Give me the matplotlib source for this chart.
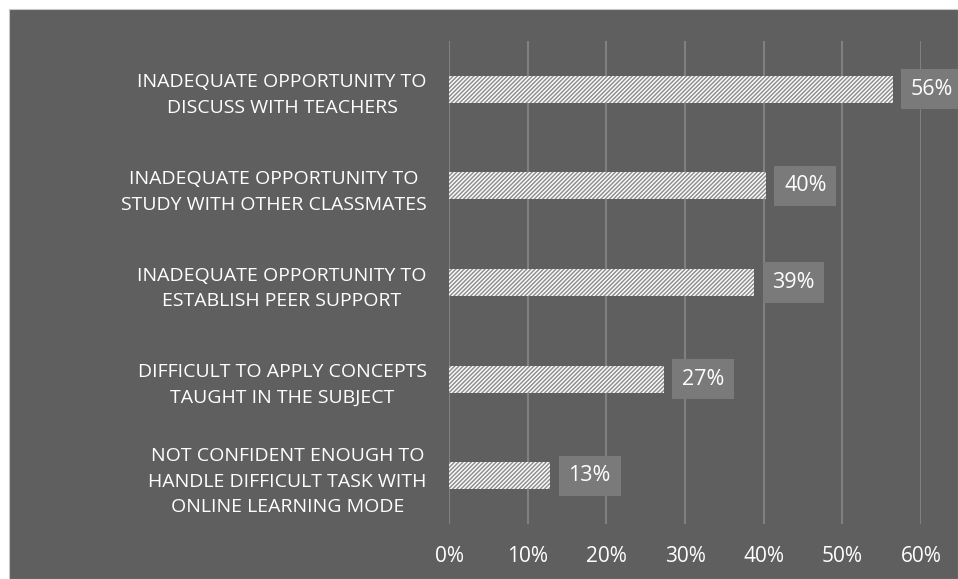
import matplotlib
matplotlib.use("Agg")
import matplotlib.pyplot as plt
from matplotlib.patches import Rectangle
from matplotlib.ticker import FuncFormatter

categories = [
    "INADEQUATE OPPORTUNITY TO\nDISCUSS WITH TEACHERS",
    "INADEQUATE OPPORTUNITY TO\nSTUDY WITH OTHER CLASSMATES",
    "INADEQUATE OPPORTUNITY TO\nESTABLISH PEER SUPPORT",
    "DIFFICULT TO APPLY CONCEPTS\nTAUGHT IN THE SUBJECT",
    "NOT CONFIDENT ENOUGH TO\nHANDLE DIFFICULT TASK WITH\nONLINE LEARNING MODE",
]
values = [56.4, 40.3, 38.8, 27.3, 12.9]
value_labels = ["56%", "40%", "39%", "27%", "13%"]
xticks = [0, 10, 20, 30, 40, 50, 60]

BG = "#5f5f5f"
GRID = "#808080"
BOX = "#7a7a7a"
FONT = "Open Sans"

plt.rcParams["hatch.linewidth"] = 1.1

fig = plt.figure(figsize=(9.58, 5.79), dpi=100, facecolor="white")
W, H = 958, 579
bg = Rectangle((9 / W, 0), 1 - 9 / W, 1 - 9 / H,
               transform=fig.transFigure, facecolor=BG,
               edgecolor="#c8c8c8", linewidth=0.8, zorder=-10)
fig.patches.append(bg)

ax = fig.add_axes([449 / W, (579 - 524) / H, (921 - 449) / W, (524 - 41) / H])
ax.set_zorder(5)
ax.set_facecolor("none")

ypos = list(range(len(categories)))
ax.barh(ypos, values, height=0.28, facecolor="white", edgecolor="#8f8f8f",
        linewidth=0, hatch="////////", zorder=3)

for y, v, lab in zip(ypos, values, value_labels):
    ax.annotate(lab, xy=(v, y), xytext=(13, 0), textcoords="offset points",
                ha="left", va="center", color="white", fontsize=15.5,
                family=FONT, zorder=4, annotation_clip=False,
                bbox=dict(boxstyle="square,pad=0.45", facecolor=BOX,
                          edgecolor="none"))

ax.set_xlim(0, 60)
ax.set_ylim(len(categories) - 0.5, -0.5)
ax.set_xticks(xticks)
ax.xaxis.set_major_formatter(FuncFormatter(lambda x, p: f"{x:.0f}%"))
ax.set_yticks(ypos)
ax.set_yticklabels(categories, multialignment="center", linespacing=1.55)
ax.grid(axis="x", color=GRID, linewidth=1.5, zorder=1)
ax.set_axisbelow(True)
for s in ax.spines.values():
    s.set_visible(False)
ax.tick_params(axis="x", length=0, pad=16, labelsize=15, labelcolor="white")
ax.tick_params(axis="y", length=0, pad=16, labelsize=14, labelcolor="white")
for t in ax.get_xticklabels() + ax.get_yticklabels():
    t.set_family(FONT)

fig.savefig("out.png", dpi=100, facecolor="white")
